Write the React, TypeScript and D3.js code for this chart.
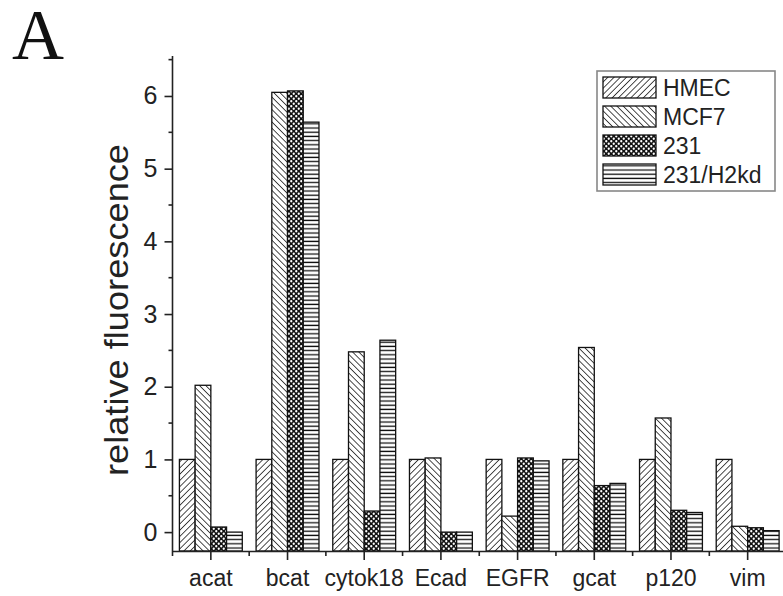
import React, { useEffect, useRef } from 'react';
import * as d3 from 'd3';

const categories = ['acat', 'bcat', 'cytok18', 'Ecad', 'EGFR', 'gcat', 'p120', 'vim'];
const seriesNames = ['HMEC', 'MCF7', '231', '231/H2kd'];
const hmec = [1, 1, 1, 1, 1, 1, 1, 1];
const mcf7 = [2.02, 6.05, 2.48, 1.02, 0.22, 2.54, 1.57, 0.08];
const mda231 = [0.07, 6.07, 0.29, 0.0, 1.02, 0.64, 0.3, 0.06];
const h2kd = [0.0, 5.64, 2.64, 0.0, 0.98, 0.67, 0.27, 0.02];
const yTicks = [0, 1, 2, 3, 4, 5, 6];

const W = 783;
const H = 596;
const FONT = '"Liberation Sans", Arial, sans-serif';

function App() {
  const ref = useRef<SVGSVGElement>(null);

  useEffect(() => {
    const svg = d3.select(ref.current);
    svg.selectAll('*').remove();

    const values = [hmec, mcf7, mda231, h2kd];
    const patIds = ['p-hmec', 'p-mcf7', 'p-231', 'p-h2kd'];

    // fill patterns
    const defs = svg.append('defs');
    const diag = (id: string, angle: number) => {
      const p = defs.append('pattern')
        .attr('id', id)
        .attr('patternUnits', 'userSpaceOnUse')
        .attr('width', 4.4)
        .attr('height', 4.4)
        .attr('patternTransform', `rotate(${angle})`);
      p.append('rect').attr('width', 4.4).attr('height', 4.4).attr('fill', '#fff');
      p.append('line')
        .attr('x1', 0).attr('y1', 0).attr('x2', 0).attr('y2', 4.4)
        .attr('stroke', '#111').attr('stroke-width', 1.5);
    };
    diag(patIds[0], 45);
    diag(patIds[1], -45);

    const dots = defs.append('pattern')
      .attr('id', patIds[2])
      .attr('patternUnits', 'userSpaceOnUse')
      .attr('width', 5)
      .attr('height', 5);
    dots.append('rect').attr('width', 5).attr('height', 5).attr('fill', '#111');
    dots.append('circle').attr('cx', 1.25).attr('cy', 1.25).attr('r', 1.15).attr('fill', '#fff');
    dots.append('circle').attr('cx', 3.75).attr('cy', 3.75).attr('r', 1.15).attr('fill', '#fff');

    const horiz = defs.append('pattern')
      .attr('id', patIds[3])
      .attr('patternUnits', 'userSpaceOnUse')
      .attr('width', 4)
      .attr('height', 4.2);
    horiz.append('rect').attr('width', 4).attr('height', 4.2).attr('fill', '#fff');
    horiz.append('line')
      .attr('x1', 0).attr('y1', 2).attr('x2', 4).attr('y2', 2)
      .attr('stroke', '#111').attr('stroke-width', 1.3);

    // scales
    const x = d3.scaleBand().domain(categories).range([172.5, 786]).padding(0);
    const inner = d3.scaleBand().domain(seriesNames).range([0, x.bandwidth() * 0.82]);
    const y = d3.scaleLinear().domain([-0.26, 6.55]).range([551, 56]);
    const groupOffset = (x.bandwidth() - inner.range()[1]) / 2;

    // bars
    seriesNames.forEach((name, si) => {
      svg.append('g')
        .selectAll('rect')
        .data(categories)
        .join('rect')
        .attr('x', (c) => (x(c) as number) + groupOffset + (inner(name) as number))
        .attr('width', inner.bandwidth())
        .attr('y', (c, i) => y(values[si][i]))
        .attr('height', (c, i) => y(y.domain()[0]) - y(values[si][i]))
        .attr('fill', `url(#${patIds[si]})`)
        .attr('stroke', '#111')
        .attr('stroke-width', 1.3);
    });

    // y axis
    const yAxis = svg.append('g')
      .attr('transform', `translate(${x.range()[0]},0)`)
      .call(d3.axisLeft(y).tickValues(yTicks).tickSize(8).tickPadding(7).tickFormat(d3.format('d')));
    yAxis.select('.domain').attr('stroke', '#222').attr('stroke-width', 1.6).attr('d', `M0,${y.range()[1]}V${y.range()[0]}`);
    yAxis.selectAll('.tick line').attr('stroke', '#222').attr('stroke-width', 1.6);
    yAxis.selectAll('.tick text').attr('font-family', FONT).attr('font-size', 25).attr('fill', '#222');
    yAxis.selectAll('line.minor')
      .data(d3.range(-0.5, 6.6, 1).filter((v) => v > y.domain()[0]))
      .join('line')
      .attr('class', 'minor')
      .attr('x1', -4).attr('x2', 0)
      .attr('y1', (v) => y(v)).attr('y2', (v) => y(v))
      .attr('stroke', '#222').attr('stroke-width', 1.6);

    // x axis
    const xAxis = svg.append('g')
      .attr('transform', `translate(0,${y.range()[0]})`)
      .call(d3.axisBottom(x).tickSize(9).tickPadding(10).tickSizeOuter(0));
    xAxis.select('.domain').attr('stroke', '#222').attr('stroke-width', 1.6);
    xAxis.selectAll('.tick line').attr('stroke', '#222').attr('stroke-width', 1.6);
    xAxis.selectAll('.tick text').attr('font-family', FONT).attr('font-size', 23).attr('fill', '#222');
    xAxis.selectAll('line.minor')
      .data(categories)
      .join('line')
      .attr('class', 'minor')
      .attr('x1', (c) => x(c) as number).attr('x2', (c) => x(c) as number)
      .attr('y1', 0).attr('y2', 5)
      .attr('stroke', '#222').attr('stroke-width', 1.6);

    // y label
    svg.append('text')
      .attr('transform', 'translate(128,310) rotate(-90)')
      .attr('text-anchor', 'middle')
      .attr('font-family', FONT)
      .attr('font-size', 33)
      .attr('textLength', 332)
      .attr('lengthAdjust', 'spacingAndGlyphs')
      .attr('fill', '#222')
      .text('relative fluorescence');

    // panel letter
    svg.append('text')
      .attr('x', 12)
      .attr('y', 59)
      .attr('font-family', '"Liberation Serif", "Times New Roman", serif')
      .attr('font-size', 72)
      .attr('fill', '#111')
      .text('A');

    // legend
    const legend = svg.append('g');
    legend.append('rect')
      .attr('x', 597).attr('y', 71).attr('width', 178).attr('height', 120)
      .attr('fill', '#fff').attr('stroke', '#888').attr('stroke-width', 1.6);
    seriesNames.forEach((name, i) => {
      const top = 77 + i * 29;
      legend.append('rect')
        .attr('x', 603).attr('y', top).attr('width', 53).attr('height', 21)
        .attr('fill', `url(#${patIds[i]})`)
        .attr('stroke', '#111').attr('stroke-width', 1.3);
      legend.append('text')
        .attr('x', 663).attr('y', top + 19)
        .attr('font-family', FONT).attr('font-size', 23).attr('fill', '#222')
        .text(name);
    });
  }, []);

  return (
    <div style={{ position: 'absolute', left: 0, top: 0 }}>
      <svg ref={ref} width={W} height={H} style={{ display: 'block', background: '#fff' }} />
    </div>
  );
}

export default App;
